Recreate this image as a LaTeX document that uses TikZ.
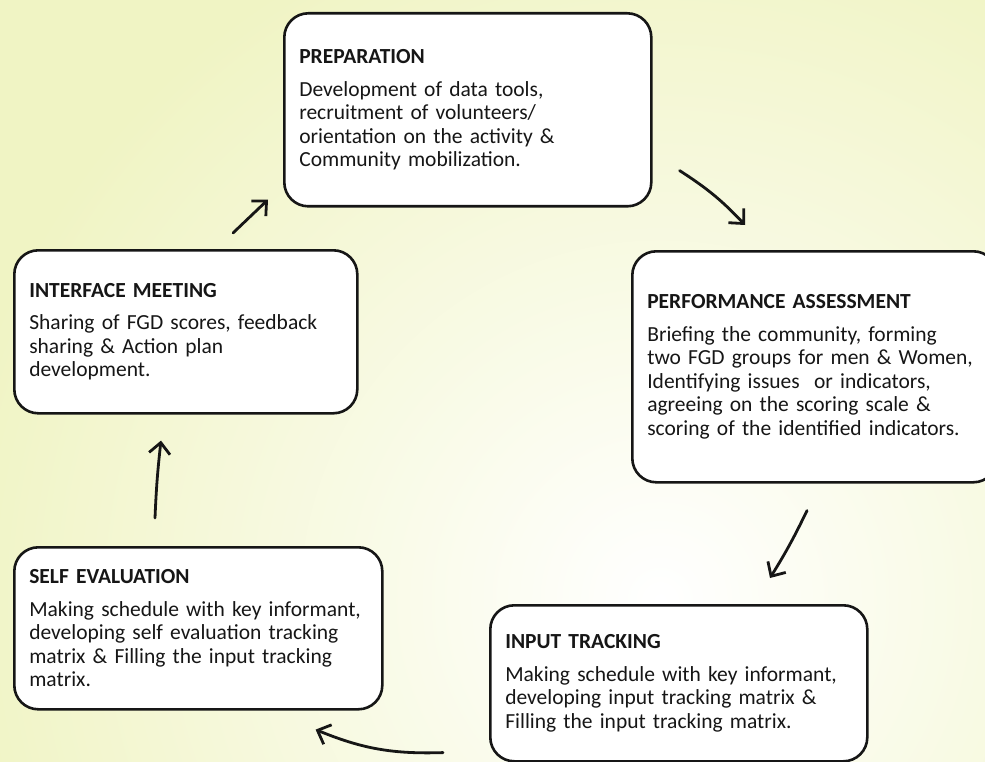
\documentclass[tikz,border=0pt]{standalone}
\usepackage{fontspec}
\setmainfont{Carlito}
\usetikzlibrary{arrows.meta}

\definecolor{bgyellow}{RGB}{240,244,196}
\definecolor{inkgray}{RGB}{22,22,22}

\tikzset{
  stage/.style={draw=inkgray, line width=2.6pt, rounded corners=24pt, fill=white,
    anchor=north west, align=left, inner xsep=15pt, inner ysep=4pt,
    font=\fontsize{21.5}{23.5}\selectfont, text=inkgray},
  flow/.style={draw=inkgray, line width=2.8pt, line cap=round,
    -{Straight Barb[length=11pt,width=21pt,line width=2.8pt]}}
}

\begin{document}
\begin{tikzpicture}[x=1pt, y=-1pt]
  % Frame: 985 x 762, y runs downwards
  \useasboundingbox (0,0) rectangle (985,762);
  \clip (0,0) rectangle (985,762);

  % Pale yellow background, white towards the lower right
  \fill[bgyellow] (0,0) rectangle (985,762);
  \shade[inner color=white, outer color=bgyellow] (660,600) circle (720pt);

  % The five stages
  \node[stage, text width=337pt, minimum height=193pt] (prep) at (283,12)
    {\textbf{PREPARATION}\\[9pt]
     Development of data tools,\\
     recruitment of volunteers/\\
     orientation on the activity \&\\
     Community mobilization.};

  \node[stage, text width=335pt, minimum height=231pt] (perf) at (631,250)
    {\textbf{PERFORMANCE ASSESSMENT}\\[9pt]
     Briefing the community, forming\\
     two FGD groups for men \& Women,\\
     Identifying issues~ or indicators,\\
     agreeing on the scoring scale \&\\
     scoring of the identified indicators.};

  \node[stage, text width=347pt, minimum height=156pt] (input) at (489,604)
    {\textbf{INPUT TRACKING}\\[9pt]
     Making schedule with key informant,\\
     developing input tracking matrix \&\\
     Filling the input tracking matrix.};

  \node[stage, text width=338pt, minimum height=162pt] (self) at (13,546)
    {\textbf{SELF EVALUATION}\\[9pt]
     Making schedule with key informant,\\
     developing self evaluation tracking\\
     matrix \& Filling the input tracking\\
     matrix.};

  \node[stage, text width=313pt, minimum height=163pt] (iface) at (13,249)
    {\textbf{INTERFACE MEETING}\\[9pt]
     Sharing of FGD scores, feedback\\
     sharing \& Action plan\\
     development.};

  % Arrow ends, placed off the box corners
  \coordinate (a1) at ([shift={(27,-37)}]prep.south east);
  \coordinate (b1) at ([shift={(114,-25)}]perf.north west);
  \coordinate (a2) at ([shift={(176,27)}]perf.south west);
  \coordinate (b2) at ([shift={(281,-26)}]input.north west);
  \coordinate (a3) at ([shift={(-46,-10)}]input.south west);
  \coordinate (b3) at ([shift={(-68,19)}]self.south east);
  \coordinate (a4) at ([shift={(142,-28)}]self.north west);
  \coordinate (b4) at ([shift={(148,26)}]iface.south west);
  \coordinate (a5) at ([shift={(220,-16)}]iface.north west);
  \coordinate (b5) at ([shift={(-15,-8)}]prep.south west);

  % Cycle arrows
  \draw[flow] (a1) to[bend left=7] (b1);
  \draw[flow] (a2) to[bend left=3] (b2);
  \draw[flow] (a3) to[bend left=12] (b3);
  \draw[flow] (a4) to[bend left=2] (b4);
  \draw[flow] (a5) -- (b5);
\end{tikzpicture}
\end{document}
